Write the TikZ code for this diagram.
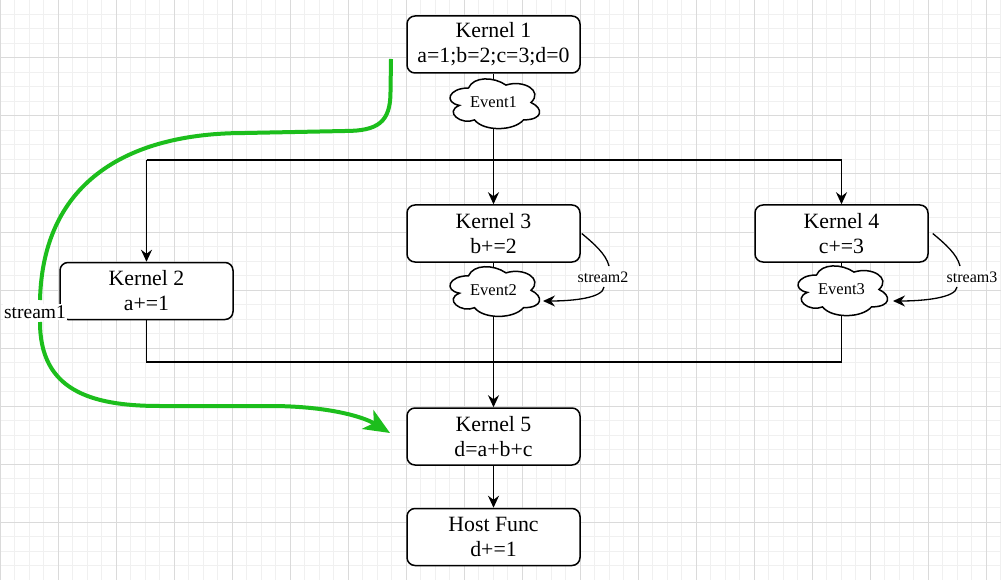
\documentclass[tikz,border=0pt]{standalone}
\usepackage{fontspec}
\setmainfont{Liberation Serif}
\usetikzlibrary{arrows.meta}
\pgfdeclarelayer{grid}\pgfdeclarelayer{bg}\pgfdeclarelayer{fg}
\pgfsetlayers{grid,bg,main,fg}
\definecolor{sgreen}{RGB}{28,190,28}
\definecolor{gminor}{RGB}{240,240,240}
\definecolor{gmajor}{RGB}{218,218,218}
\newcommand\evcloud[4]{%
  \begin{scope}[shift={(#2-50,#3-29)}]
    \filldraw[cloudline] (25,14.5) .. controls (5,14.5) and (0,29) .. (16,31.9)
      .. controls (0,38.28) and (18,52.2) .. (31,46.4)
      .. controls (40,58) and (70,58) .. (80,46.4)
      .. controls (100,46.4) and (100,34.8) .. (87.5,29)
      .. controls (100,17.4) and (80,5.8) .. (62.5,11.6)
      .. controls (50,2.9) and (30,2.9) .. (25,14.5) -- cycle;
  \end{scope}
  \node[evtext] (#1) at (#2,#3) {#4};}
\begin{document}
\begin{tikzpicture}[x=1pt,y=-1pt,
  box/.style={draw=black, line width=1.5pt, rounded corners=8pt, fill=white,
    minimum width=173pt, minimum height=57pt, inner sep=0pt, align=center,
    font=\fontsize{21.8pt}{25pt}\selectfont},
  cloudline/.style={draw=black, fill=white, line width=1.5pt},
  evtext/.style={inner sep=0pt, minimum width=100pt, minimum height=58pt,
    font=\fontsize{16.5pt}{18pt}\selectfont},
  conn/.style={draw=black, line width=1.8pt},
  arr/.style={-{Stealth[length=12pt,width=11pt,inset=4pt]}},
  sline/.style={draw=black, line width=1.3pt},
  slabel/.style={fill=white, inner sep=1pt, font=\fontsize{16pt}{18pt}\selectfont},
  gline/.style={draw=sgreen, line width=4pt},
  garr/.style={-{Stealth[length=26pt,width=22pt,inset=7pt]}},
  s1label/.style={fill=white, inner sep=1.5pt, font=\fontsize{19.5pt}{21pt}\selectfont}
]
\useasboundingbox (0,0) rectangle (1001,580);
% grid
\begin{pgfonlayer}{grid}
  \fill[white] (0,0) rectangle (1001,580);
  \foreach \i in {0,...,69} \draw[gminor, line width=1pt] (\i*14.5,0) -- (\i*14.5,580);
  \foreach \i in {0,...,40} \draw[gminor, line width=1pt] (0,\i*14.5) -- (1001,\i*14.5);
  \foreach \i in {0,...,17} \draw[gmajor, line width=1pt] (\i*58,0) -- (\i*58,580);
  \foreach \i in {0,...,10} \draw[gmajor, line width=1pt] (0,\i*58) -- (1001,\i*58);
\end{pgfonlayer}
% boxes
\node[box] (K1) at (493.5,44.5) {Kernel 1\\a=1;b=2;c=3;d=0};
\node[box] (K3) at (493.5,233.5) {Kernel 3\\b+=2};
\node[box] (K4) at (841.5,233.5) {Kernel 4\\c+=3};
\node[box] (K2) at (146.5,291) {Kernel 2\\a+=1};
\node[box] (K5) at (493.5,436.5) {Kernel 5\\d=a+b+c};
\node[box] (HF) at (493.5,537) {Host Func\\d+=1};
% clouds
\evcloud{E1}{493.5}{102.5}{Event1}
\evcloud{E2}{493.5}{290.3}{Event2}
\evcloud{E3}{841.5}{289.5}{Event3}
% connectors
\coordinate (tL) at (146.5,160);
\coordinate (tR) at (841.5,160);
\coordinate (bL) at (146.5,362);
\coordinate (bR) at (841.5,362);
\begin{pgfonlayer}{bg}
  \draw[conn] (K1.south) -- (E1.center);
  \draw[conn,arr] (E1.center) -- (K3.north);
  \draw[conn] (tL) -- (tR);
  \draw[conn,arr] (tL) -- (K2.north);
  \draw[conn,arr] (tR) -- (K4.north);
  \draw[conn] (K3.south) -- (E2.center);
  \draw[conn] (K4.south) -- (E3.center);
  \draw[conn,arr] (E2.center) -- (K5.north);
  \draw[conn] (K2.south) -- (bL) -- (bR) -- (E3.center);
  \draw[conn,arr] (K5.south) -- (HF.north);
\end{pgfonlayer}
% stream2
\coordinate (s2b) at (609,266);
\coordinate (s2c) at (604,287);
\coordinate (s2e) at (543,301);
\draw[sline] ([xshift=1pt]K3.east) .. controls +(12,10) and +(-3,-12) .. (s2b);
\draw[sline,arr] (s2c) .. controls +(-1,11) and +(30,0) .. (s2e);
\node[slabel] (L2) at (603,277) {stream2};
% stream3
\coordinate (s3b) at (960,266);
\coordinate (s3c) at (957,287);
\coordinate (s3e) at (893,301);
\draw[sline] ([xshift=4pt]K4.east) .. controls +(12,10) and +(-3,-12) .. (s3b);
\draw[sline,arr] (s3c) .. controls +(-1,11) and +(30,0) .. (s3e);
\node[slabel] (L3) at (972,277) {stream3};
% stream1
\coordinate (g0) at (391,59);
\coordinate (g1) at (40,300);
\coordinate (g2) at (40,322);
\coordinate (g3) at (390,433);
\draw[gline] (g0) -- (390.5,92) .. controls (390.5,122) and (378,131) .. (345,131)
  -- (245,133) .. controls (130,133) and (43,180) .. (g1);
\draw[gline,garr] (g2) .. controls (40,390) and (90,406) .. (160,406) -- (270,406)
  .. controls (325,406) and (362,416) .. (g3);
\node[s1label] (L1) at (35,312) {stream1};
\end{tikzpicture}
\end{document}
